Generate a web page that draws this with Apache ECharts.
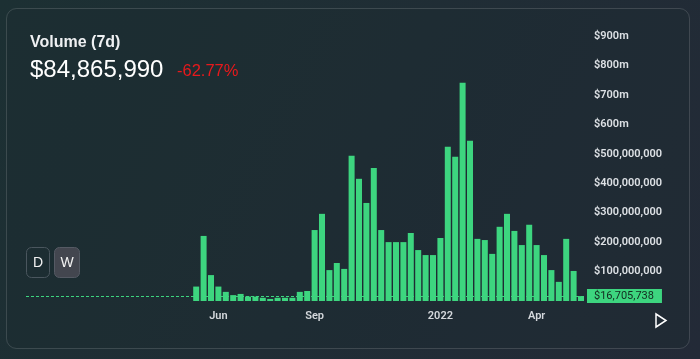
<!DOCTYPE html>
<html>
<head>
<meta charset="utf-8">
<script src="https://cdn.jsdelivr.net/npm/echarts@6/dist/echarts.min.js"></script>
<style>
html,body{margin:0;padding:0;background:#1f2b31;}
#c{width:700px;height:359px;}
</style>
</head>
<body>
<div id="c"></div>
<script>
const weeks = ['2021-05-17','2021-05-24','2021-05-31','2021-06-07','2021-06-14','2021-06-21','2021-06-28',
'2021-07-05','2021-07-12','2021-07-19','2021-07-26','2021-08-02','2021-08-09','2021-08-16','2021-08-23','2021-08-30',
'2021-09-06','2021-09-13','2021-09-20','2021-09-27','2021-10-04','2021-10-11','2021-10-18','2021-10-25',
'2021-11-01','2021-11-08','2021-11-15','2021-11-22','2021-11-29','2021-12-06','2021-12-13','2021-12-20','2021-12-27',
'2022-01-03','2022-01-10','2022-01-17','2022-01-24','2022-01-31','2022-02-07','2022-02-14','2022-02-21','2022-02-28',
'2022-03-07','2022-03-14','2022-03-21','2022-03-28','2022-04-04','2022-04-11','2022-04-18','2022-04-25',
'2022-05-02','2022-05-09','2022-05-16'];
const volumes = [49e6,221e6,88e6,49e6,31e6,20e6,24e6,15e6,
15e6,11e6,7e6,11e6,11e6,11e6,31e6,34e6,
241e6,296e6,105e6,129e6,109e6,493e6,415e6,333e6,452e6,
241e6,200e6,200e6,200e6,231e6,173e6,156e6,156e6,214e6,
524e6,490e6,741e6,544e6,211e6,207e6,160e6,252e6,
296e6,238e6,190e6,259e6,190e6,156e6,105e6,65e6,211e6,
102e6,16705738];
const currentValue = 16705738;
const xTickLabels = {'2021-06-07':'Jun','2021-09-06':'Sep','2022-01-03':'2022','2022-04-04':'Apr'};
const yTickLabels = {100:'$100,000,000',200:'$200,000,000',300:'$300,000,000',400:'$400,000,000',500:'$500,000,000',600:'$600m',700:'$700m',800:'$800m',900:'$900m'};
const titleText = 'Volume (7d)';
const bigValue = '$84,865,990';
const changeText = '-62.77%';
const currentLabel = '$16,705,738';

const chart = echarts.init(document.getElementById('c'));
chart.setOption({
  animation:false,
  backgroundColor:{type:'linear',x:0,y:0,x2:1,y2:1,colorStops:[{offset:0,color:'#1c3033'},{offset:1,color:'#232a37'}]},
  grid:{left:26,right:115,top:36,bottom:58},
  xAxis:{
    type:'value',
    min:-23, max:52.54, interval:1,
    axisLine:{show:false}, axisTick:{show:false}, splitLine:{show:false},
    axisLabel:{
      color:'#d4d8dc', fontSize:11, fontWeight:600, fontFamily:'Roboto', margin:10,
      hideOverlap:false, showMinLabel:false, showMaxLabel:false,
      formatter:function(v){const w=weeks[Math.round(v)];return (w&&xTickLabels[w])||'';}
    }
  },
  yAxis:{
    type:'value', position:'right', min:0, max:900e6, interval:100e6,
    axisLine:{show:false}, axisTick:{show:false}, splitLine:{show:false},
    axisLabel:{
      color:'#dde1e5', fontSize:11, fontWeight:600, fontFamily:'Roboto', margin:9, showMinLabel:false,
      formatter:function(v){return yTickLabels[Math.round(v/1e6)]||'';}
    }
  },
  series:[{
    type:'bar',
    data:volumes.map((v,i)=>[i,v]),
    barWidth:6,
    itemStyle:{color:'#3dd57f'},
    markLine:{
      symbol:'none', silent:true,
      lineStyle:{color:'#3dd57f',type:[3,2],width:1},
      label:{position:'end',distance:2,formatter:currentLabel,backgroundColor:'#3dd57f',color:'#132a1f',
        fontSize:11,fontFamily:'Roboto',padding:[2,8,1,7]},
      data:[{yAxis:currentValue}]
    }
  }],
  graphic:[
    {type:'rect',shape:{x:6.5,y:8.5,width:683,height:340,r:10},style:{fill:'rgba(30,42,48,0.35)',stroke:'rgba(255,255,255,0.14)',lineWidth:1},z:-1},
    {type:'text',x:30,y:43,style:{text:titleText,font:'bold 16px "Liberation Sans"',fill:'#eef0f2',verticalAlign:'middle'}},
    {type:'text',x:30,y:70,style:{text:bigValue,font:'400 24px "Liberation Sans"',fill:'#ffffff',verticalAlign:'middle'}},
    {type:'text',x:177,y:71,style:{text:changeText,font:'400 16.5px "Liberation Sans"',fill:'#e8191c',verticalAlign:'middle'}},
    {type:'rect',shape:{x:26.5,y:247.5,width:23,height:30,r:5},style:{fill:'transparent',stroke:'#4a565e',lineWidth:1}},
    {type:'text',x:38,y:263,style:{text:'D',font:'500 14px "Liberation Sans"',fill:'#f2f2f2',align:'center',verticalAlign:'middle'}},
    {type:'rect',shape:{x:54.5,y:247.5,width:25,height:30,r:5},style:{fill:'#43464f',stroke:'#555a64',lineWidth:1}},
    {type:'text',x:67,y:263,style:{text:'W',font:'500 14px "Liberation Sans"',fill:'#f2f2f2',align:'center',verticalAlign:'middle'}},
    {type:'polygon',shape:{points:[[656,314],[666,320.5],[656,327]]},style:{fill:'transparent',stroke:'#ffffff',lineWidth:1.5}}
  ]
});
</script>
</body>
</html>
